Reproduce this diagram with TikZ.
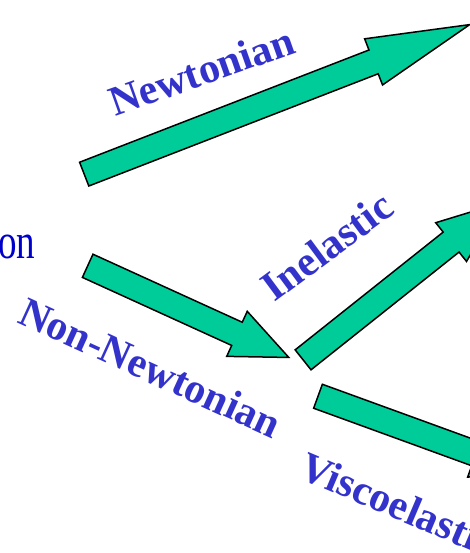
\documentclass[tikz,border=0pt]{standalone}
\usepackage{fontspec}
\setmainfont{Liberation Serif}
\usetikzlibrary{shapes.arrows}
\definecolor{flowgreen}{RGB}{0,204,153}
\definecolor{labelblue}{RGB}{51,51,204}
\definecolor{wordblue}{RGB}{0,0,204}
\begin{document}
\begin{tikzpicture}[x=1pt,y=-1pt,
  flowarrow/.style={draw=black,fill=flowgreen,line width=1.5pt,single arrow,single arrow head extend=12pt,minimum width=48pt,inner xsep=0pt,inner ysep=12pt,anchor=tail},
  branchlabel/.style={text=labelblue,font=\fontsize{42}{50}\selectfont\bfseries,inner sep=0pt,anchor=base west}]
\useasboundingbox (0,0) rectangle (470,553);
\clip (0,0) rectangle (470,553);
\node[text=wordblue,font=\fontsize{37}{44}\selectfont,inner sep=0pt,anchor=base east,yscale=1.35] (fluid) at (35.5,258.3) {on};
% block arrows
\node[flowarrow,single arrow tip angle=27,minimum height=413.5pt,rotate=21.2] (newt) at (83.5,174.4) {};
\node[flowarrow,single arrow tip angle=47,minimum height=221pt,rotate=-24.5] (nonnewt) at (87,265.5) {};
\node[flowarrow,single arrow tip angle=43,minimum height=252pt,rotate=38.5] (inel) at (302.5,360.3) {};
\node[flowarrow,single arrow tip angle=45,minimum height=228pt,rotate=-20] (visco) at (317.3,396) {};
% labels
\node[branchlabel,rotate=19.5] (newtlabel) at (115,117) {Newtonian};
\node[branchlabel,rotate=-24.5] (nonnewtlabel) at (16,322) {Non-Newtonian};
\node[branchlabel,rotate=36.5] (inellabel) at (274,303) {Inelastic};
\node[branchlabel,rotate=-23] (viscolabel) at (297,477) {Viscoelastic};
\end{tikzpicture}
\end{document}
